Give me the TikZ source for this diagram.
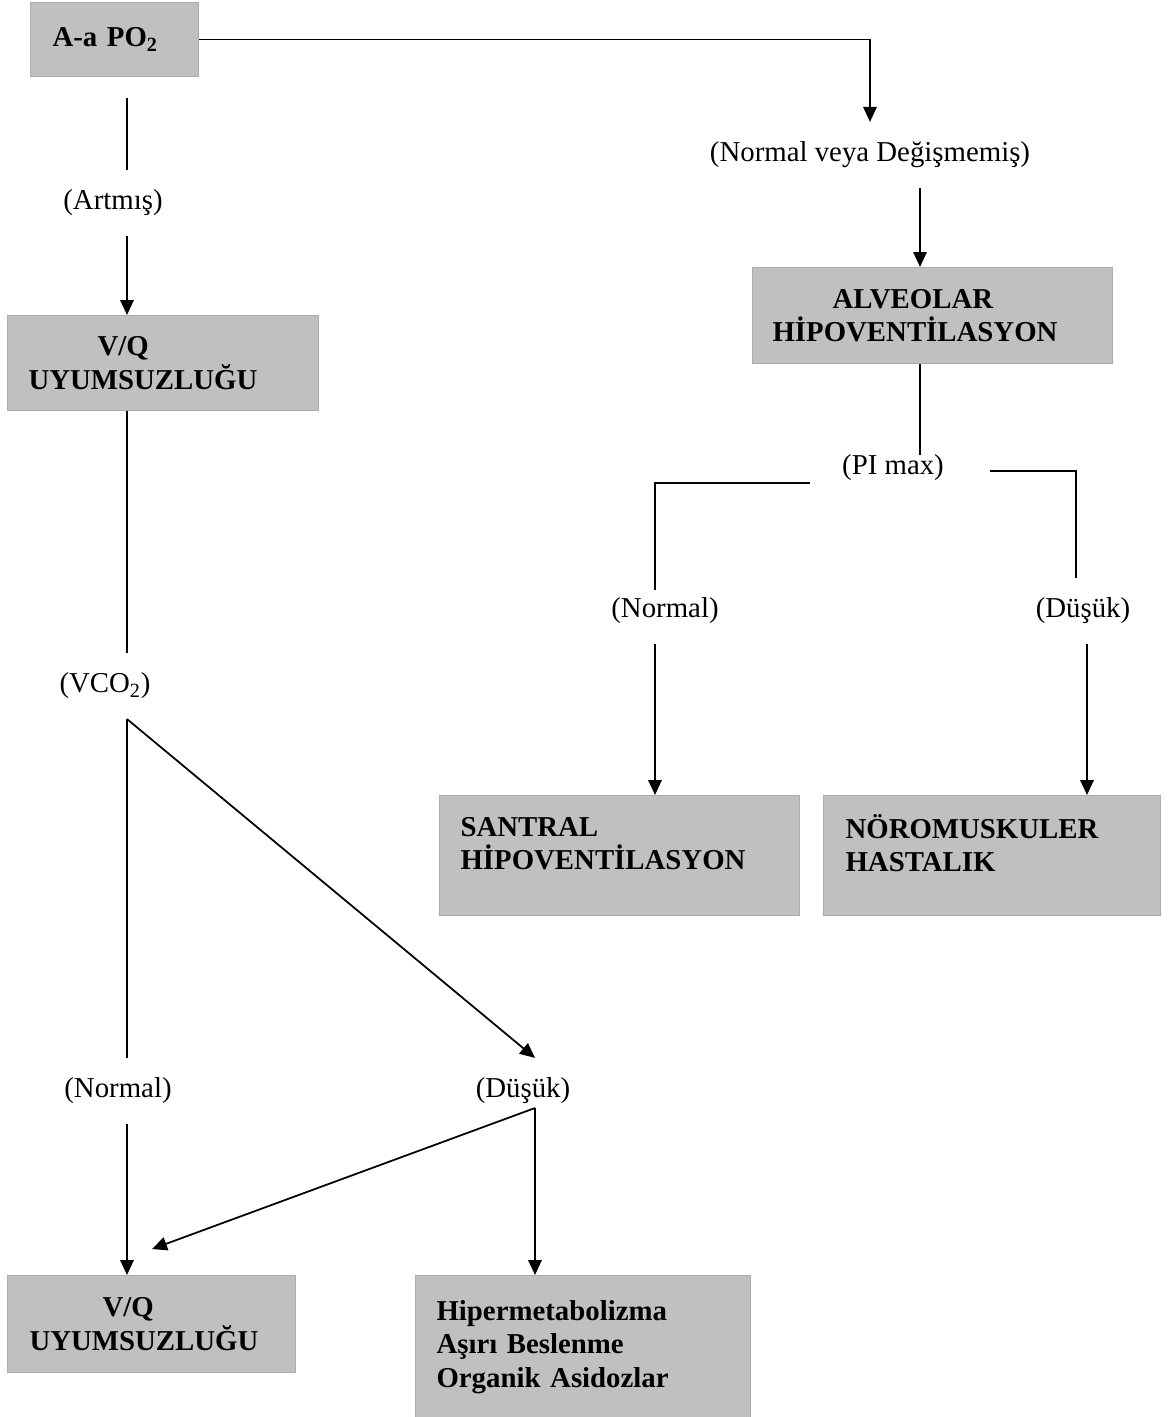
\documentclass[tikz,border=0pt]{standalone}
\usepackage{fontspec}
\setmainfont{Liberation Serif}
\usetikzlibrary{arrows.meta}
\definecolor{boxgray}{RGB}{192,192,192}
\definecolor{boxedge}{RGB}{172,172,172}
\newcommand{\dfont}{\fontsize{16.4}{19}\selectfont}
\tikzset{
	box/.style={rectangle,fill=boxgray,draw=boxedge,line width=0.6pt,
		font=\dfont\bfseries,align=left,anchor=north west,inner ysep=0pt},
	lbl/.style={font=\dfont,inner sep=0pt,outer xsep=0pt,outer ysep=0.4cm},
	line/.style={line width=1pt},
	arr/.style={line,-{Triangle[length=3mm,width=2.7mm]}}
}
\begin{document}
\begin{tikzpicture}[x=0.02cm,y=-0.02cm]
\useasboundingbox (0,0) rectangle (1167,1417);
% guide columns
\coordinate (xL) at (127,0);
\coordinate (xR) at (920,0);
\coordinate (xN) at (655,0);
\coordinate (xD) at (1076,0);
\coordinate (xE) at (1087,0);
\coordinate (xM) at (535,0);

% boxes
\node[box,minimum width=3.36cm,minimum height=1.48cm,inner xsep=0.44cm,text width=2.48cm] (aapo) at (30,2) {A-a PO\textsubscript{2}};
\node[box,minimum width=7.2cm,minimum height=1.92cm,inner xsep=0.4cm,text width=6.4cm] (alv) at (752,267) {\hspace*{1.2cm}ALVEOLAR\\HİPOVENTİLASYON};
\node[box,minimum width=7.2cm,minimum height=2.4cm,inner xsep=0.42cm,text width=6.36cm] (sant) at (439,795) {SANTRAL\\HİPOVENTİLASYON\\[-5pt]\mbox{}};
\node[box,minimum width=6.74cm,minimum height=2.4cm,inner xsep=0.44cm,text width=5.86cm] (noro) at (823,795) {NÖROMUSKULER\\HASTALIK\\[-5pt]\mbox{}};
\node[box,minimum width=6.22cm,minimum height=1.9cm,inner xsep=0.42cm,text width=5.38cm] (vq1) at (7,315) {\hspace*{1.38cm}V/Q\\UYUMSUZLUĞU};
\node[box,minimum width=5.76cm,minimum height=1.94cm,inner xsep=0.44cm,text width=4.88cm] (vq2) at (7,1275) {\hspace*{1.46cm}V/Q\\UYUMSUZLUĞU};
\node[box,minimum width=6.7cm,minimum height=2.9cm,inner xsep=0.42cm,text width=5.86cm] (hiper) at (415,1275) {Hipermetabolizma\\Aşırı Beslenme\\Organik Asidozlar\\[-14pt]\mbox{}};

% labels
\node[lbl] (nv) at (870,155) {(Normal veya Değişmemiş)};
\node[lbl] (artmis) at (113,203) {(Artmış)};
\node[lbl,outer ysep=0pt] (pimax) at (893,468) {(PI max)};
\node[lbl] (normR) at (665,611) {(Normal)};
\node[lbl] (dusR) at (1083,611) {(Düşük)};
\node[lbl] (vco) at (105,686) {(VCO\textsubscript{2})};
\node[lbl] (normL) at (118,1091) {(Normal)};
\node[lbl] (dusL) at (523,1091) {(Düşük)};

% right branch
\draw[arr] (aapo.east) -| (nv.north);
\draw[arr] (nv.south -| xR) -- (alv.north -| xR);
\draw[line] (alv.south -| xR) -- (pimax.north -| xR);
\coordinate (pL) at (810,483);
\coordinate (pR) at (990,471);
\draw[line,shorten >=-0.24cm] (pL) -| (normR.north -| xN);
\draw[line] (pR) -| (dusR.north -| xD);
\draw[arr] (normR.south -| xN) -- (sant.north -| xN);
\draw[arr] (dusR.south -| xE) -- (noro.north -| xE);

% left branch
\draw[line,shorten <=0.42cm] (aapo.south -| xL) -- (artmis.north -| xL);
\draw[arr] (artmis.south -| xL) -- (vq1.north -| xL);
\draw[line] (vq1.south -| xL) -- (vco.north -| xL);
\draw[line] (vco.south -| xL) -- (normL.north -| xL);
\draw[arr] (vco.south -| xL) -- (dusL.north -| xM);
\draw[arr] (normL.south -| xL) -- (vq2.north -| xL);
\coordinate (dsplit) at (535,1108);
\coordinate (vqtip) at (152,1249);
\draw[arr] (dsplit) -- (hiper.north -| xM);
\draw[arr] (dsplit) -- (vqtip);
\end{tikzpicture}
\end{document}
